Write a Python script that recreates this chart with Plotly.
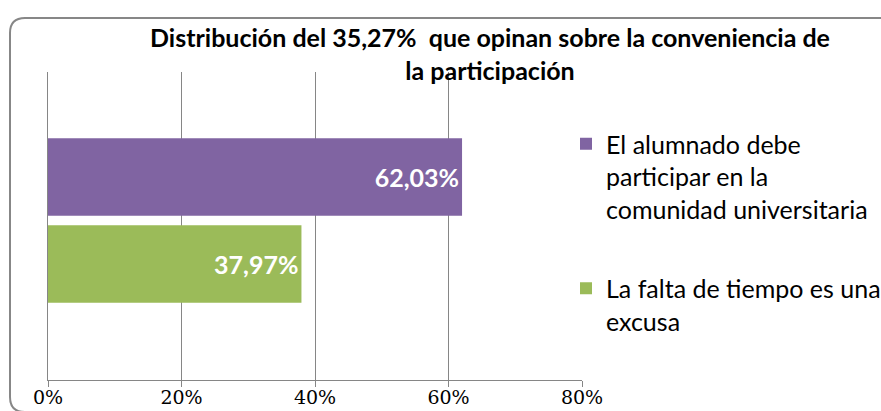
import plotly.graph_objects as go

title_text = "Distribución del 35,27%  que opinan sobre la conveniencia de<br>la participación"
series_names = ["El alumnado debe<br>participar en la<br>comunidad universitaria",
                "La falta de tiempo es una<br>excusa"]
series_values = [0.6203, 0.3797]
series_labels = ["62,03%", "37,97%"]
series_colors = ["#8064A2", "#9BBB59"]
category = [""]
tick_vals = [0, 0.2, 0.4, 0.6, 0.8]
tick_text = ["0%", "20%", "40%", "60%", "80%"]

W, H = 881, 411
L, R, T, B = 48, 582, 72, 380  # plot area in pixels

def px(x):
    return (x - L) / (R - L)

def py(y):
    return (B - y) / (B - T)

fig = go.Figure()
# add in reverse so the first series sits on top
for i in [1, 0]:
    fig.add_trace(go.Bar(
        y=category, x=[series_values[i]], orientation="h",
        name=series_names[i], legendgroup=f"g{i}", legendrank=i + 1,
        marker=dict(color=series_colors[i], line=dict(width=0)),
        text=[series_labels[i]], textposition="inside", insidetextanchor="end",
        constraintext="none",
        textfont=dict(family="Lato", size=25, color="white", weight="bold"),
        cliponaxis=False,
    ))

# rounded border
x0, x1, y0, y1 = 10, 900, 18, 412
r = 15
rx, ry = r / (R - L), r / (B - T)
X0, X1, Y0, Y1 = px(x0), px(x1), py(y0), py(y1)
path = (f"M {X0+rx},{Y0} L {X1-rx},{Y0} Q {X1},{Y0} {X1},{Y0-ry} "
        f"L {X1},{Y1+ry} Q {X1},{Y1} {X1-rx},{Y1} L {X0+rx},{Y1} "
        f"Q {X0},{Y1} {X0},{Y1+ry} L {X0},{Y0-ry} Q {X0},{Y0} {X0+rx},{Y0} Z")

fig.update_layout(
    width=W, height=H,
    margin=dict(l=L, r=W - R, t=T, b=H - B, pad=0, autoexpand=False),
    paper_bgcolor="white", plot_bgcolor="white",
    barmode="group", bargap=0.435, bargroupgap=0.11,
    title=dict(text=title_text, x=px(490), xref="paper", xanchor="center",
               y=1 - 47 / H, yref="container", yanchor="top",
               font=dict(family="Lato", size=25, color="black", weight="bold")),
    xaxis=dict(range=[0, 0.8], tickvals=tick_vals, ticktext=tick_text,
               showgrid=True, gridcolor="#868686", gridwidth=1,
               showline=True, linecolor="#868686", linewidth=1,
               ticks="outside", ticklen=6, tickcolor="#868686",
               ticklabelstandoff=-6,
               tickfont=dict(family="DejaVu Serif", size=19, color="black"),
               zeroline=False, fixedrange=True),
    yaxis=dict(showticklabels=False, showgrid=False, showline=True,
               range=[-0.518, 0.482],
               linecolor="#868686", linewidth=1, ticks="", zeroline=False),
    legend=dict(x=px(566), y=py(121), xanchor="left", yanchor="top",
                traceorder="grouped", valign="top", tracegroupgap=44,
                itemwidth=30, bgcolor="rgba(0,0,0,0)",
                font=dict(family="Lato", size=25, color="black")),
    shapes=[dict(type="path", path=path, xref="paper", yref="paper",
                 line=dict(color="#878787", width=2), layer="above")],
    showlegend=True,
)

fig.write_html("out.html", config={"displayModeBar": False},
               post_script="document.body.style.margin='0px';")
